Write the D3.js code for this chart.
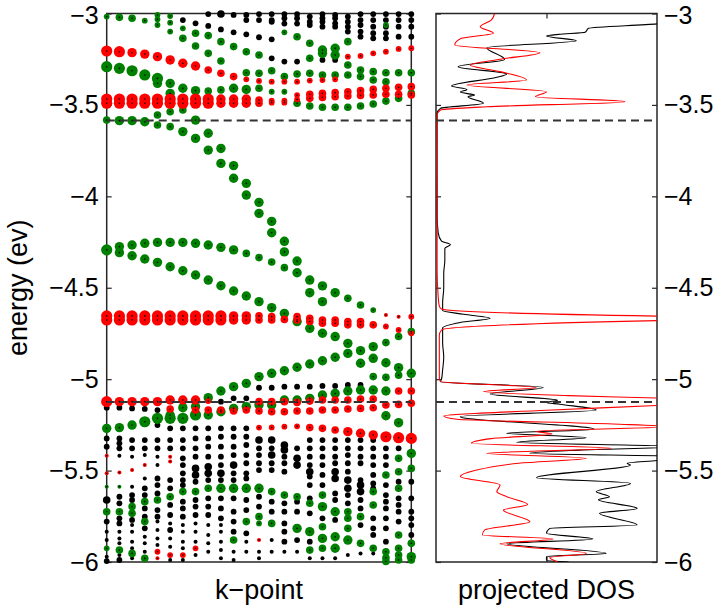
<!DOCTYPE html>
<html><head><meta charset="utf-8">
<script src="https://cdn.jsdelivr.net/npm/d3@7"></script>
<style>body{margin:0;background:#fff} text{font-family:"Liberation Sans",Arial,Helvetica,sans-serif}</style>
</head><body><svg id="c" width="721" height="610"></svg>
<script>
// ---------------- DATA ----------------
const kpoints = [1,2,3,4,5,6,7,8,9,10,11,12,13,14,15,16,17,18,19,20,21,22,23,24,25];
const yTicks = [-6,-5.5,-5,-4.5,-4,-3.5,-3];
const fermiLevels = [-3.585, -5.125];
// eigenvalues per k-point: [energy (eV), projection ('k' total, 'r', 'g'), weight]
const eigen = [
[[-3.017,'g',3],[-3.205,'r',6],[-3.291,'g',6],[-3.468,'r',6],[-3.491,'r',6],[-3.583,'g',4],[-4.293,'g',6],[-4.654,'r',6],[-4.676,'r',6],[-5.123,'r',6],[-5.156,'k',3],[-5.269,'g',5],[-5.324,'k',3],[-5.369,'k',3],[-5.419,'r',2],[-5.515,'r',2],[-5.588,'g',2],[-5.661,'k',4],[-5.725,'g',4],[-5.779,'k',3],[-5.834,'k',2],[-5.880,'k',2],[-5.925,'g',3],[-5.971,'k',2],[-5.995,'k',3]],
[[-3.021,'g',4],[-3.209,'r',6],[-3.300,'g',6],[-3.468,'r',6],[-3.491,'r',6],[-3.586,'g',5],[-4.275,'g',5],[-4.308,'g',5],[-4.654,'r',6],[-4.676,'r',6],[-5.123,'r',5],[-5.156,'k',3],[-5.265,'g',5],[-5.324,'k',3],[-5.351,'k',3],[-5.378,'k',3],[-5.419,'k',2],[-5.510,'r',2],[-5.588,'g',2],[-5.643,'k',3],[-5.679,'k',3],[-5.725,'g',4],[-5.761,'k',3],[-5.789,'k',3],[-5.834,'k',2],[-5.871,'k',2],[-5.898,'k',2],[-5.935,'g',4],[-5.962,'k',2],[-5.989,'k',3]],
[[-3.026,'g',4],[-3.214,'r',5],[-3.313,'g',6],[-3.468,'r',6],[-3.491,'r',6],[-3.586,'g',5],[-4.266,'g',5],[-4.325,'g',5],[-4.654,'r',6],[-4.676,'r',6],[-5.123,'r',5],[-5.160,'k',3],[-5.251,'g',5],[-5.333,'k',3],[-5.378,'k',3],[-5.424,'k',2],[-5.497,'r',2],[-5.588,'k',2],[-5.634,'k',3],[-5.661,'k',3],[-5.697,'g',4],[-5.734,'g',4],[-5.770,'k',3],[-5.798,'k',2],[-5.834,'k',2],[-5.889,'k',2],[-5.925,'k',2],[-5.953,'g',4],[-5.980,'k',2]],
[[-3.039,'g',3],[-3.222,'r',5],[-3.336,'g',6],[-3.468,'r',6],[-3.491,'r',6],[-3.592,'g',5],[-4.257,'g',5],[-4.343,'g',5],[-4.654,'r',6],[-4.676,'r',6],[-5.123,'r',5],[-5.163,'k',3],[-5.233,'g',6],[-5.333,'k',3],[-5.378,'k',3],[-5.415,'k',2],[-5.470,'r',2],[-5.543,'k',2],[-5.597,'k',3],[-5.634,'k',3],[-5.670,'g',4],[-5.707,'k',3],[-5.752,'k',3],[-5.779,'g',4],[-5.816,'k',3],[-5.862,'k',2],[-5.898,'k',2],[-5.944,'k',2],[-5.980,'g',4]],
[[-3.008,'g',3],[-3.032,'g',3],[-3.063,'g',3],[-3.236,'r',5],[-3.355,'g',6],[-3.382,'g',5],[-3.468,'r',6],[-3.491,'r',6],[-3.555,'g',4],[-3.610,'g',4],[-4.252,'g',5],[-4.361,'g',5],[-4.654,'r',6],[-4.676,'r',6],[-5.123,'r',5],[-5.169,'k',3],[-5.214,'g',6],[-5.251,'k',3],[-5.333,'k',3],[-5.378,'k',3],[-5.424,'k',2],[-5.470,'k',2],[-5.543,'k',3],[-5.579,'k',3],[-5.625,'k',3],[-5.661,'g',4],[-5.716,'k',3],[-5.752,'k',3],[-5.779,'k',2],[-5.825,'k',2],[-5.871,'k',2],[-5.907,'k',2],[-5.944,'r',3],[-5.980,'r',2]],
[[-3.014,'g',3],[-3.050,'g',3],[-3.099,'g',3],[-3.254,'r',5],[-3.382,'g',5],[-3.437,'g',5],[-3.468,'r',6],[-3.491,'r',6],[-3.537,'g',4],[-3.619,'g',4],[-4.252,'g',5],[-4.385,'g',5],[-4.654,'r',6],[-4.676,'r',6],[-5.114,'r',5],[-5.163,'r',4],[-5.196,'g',5],[-5.214,'g',6],[-5.269,'k',3],[-5.333,'k',3],[-5.378,'k',3],[-5.424,'r',2],[-5.451,'r',2],[-5.552,'k',3],[-5.597,'k',3],[-5.643,'g',4],[-5.688,'k',3],[-5.743,'k',3],[-5.789,'k',2],[-5.825,'k',3],[-5.871,'k',2],[-5.916,'k',2],[-5.962,'r',3],[-5.989,'k',2]],
[[-3.036,'k',3],[-3.081,'g',3],[-3.136,'g',4],[-3.272,'r',5],[-3.409,'g',5],[-3.468,'r',6],[-3.491,'r',6],[-3.528,'g',4],[-3.646,'g',5],[-4.252,'g',5],[-4.407,'g',5],[-4.654,'r',6],[-4.676,'r',6],[-5.114,'r',5],[-5.156,'g',5],[-5.214,'g',6],[-5.269,'k',3],[-5.333,'k',3],[-5.378,'k',3],[-5.433,'k',3],[-5.470,'k',3],[-5.515,'k',3],[-5.552,'k',3],[-5.579,'k',3],[-5.615,'g',4],[-5.670,'k',3],[-5.707,'k',3],[-5.752,'k',3],[-5.798,'k',2],[-5.834,'k',2],[-5.889,'k',2],[-5.925,'k',2],[-5.962,'r',3],[-5.989,'k',2]],
[[-3.054,'k',3],[-3.108,'g',4],[-3.178,'g',4],[-3.287,'r',5],[-3.422,'g',5],[-3.468,'r',6],[-3.491,'r',6],[-3.583,'g',5],[-3.683,'g',5],[-4.257,'g',5],[-4.430,'g',5],[-4.654,'r',6],[-4.676,'r',6],[-5.114,'r',5],[-5.150,'g',5],[-5.169,'r',4],[-5.196,'g',6],[-5.269,'k',3],[-5.324,'k',3],[-5.378,'k',3],[-5.424,'k',3],[-5.488,'k',4],[-5.524,'k',4],[-5.561,'k',3],[-5.615,'g',4],[-5.661,'k',3],[-5.697,'k',3],[-5.743,'k',3],[-5.789,'k',2],[-5.834,'k',2],[-5.889,'k',2],[-5.925,'r',3],[-5.962,'k',2]],
[[-3.003,'k',3],[-3.068,'k',3],[-3.121,'g',4],[-3.218,'g',4],[-3.309,'r',4],[-3.424,'g',4],[-3.468,'r',6],[-3.491,'r',6],[-3.655,'g',5],[-3.747,'g',5],[-4.266,'g',5],[-4.458,'g',5],[-4.654,'r',6],[-4.676,'r',6],[-5.101,'g',5],[-5.120,'r',3],[-5.169,'r',4],[-5.196,'g',5],[-5.269,'k',3],[-5.324,'k',3],[-5.369,'k',3],[-5.424,'k',3],[-5.479,'k',4],[-5.515,'k',4],[-5.552,'k',3],[-5.597,'g',4],[-5.652,'k',3],[-5.697,'k',3],[-5.743,'k',3],[-5.798,'k',2],[-5.852,'k',2],[-5.898,'k',2],[-5.944,'k',2]],
[[-3.003,'k',4],[-3.087,'k',3],[-3.154,'g',4],[-3.260,'g',4],[-3.327,'r',4],[-3.418,'g',4],[-3.468,'r',5],[-3.491,'r',5],[-3.738,'g',5],[-3.820,'g',5],[-4.279,'g',5],[-4.489,'g',5],[-4.654,'r',6],[-4.676,'r',6],[-5.065,'g',5],[-5.123,'k',3],[-5.169,'r',4],[-5.178,'g',5],[-5.269,'k',3],[-5.315,'k',3],[-5.369,'k',3],[-5.424,'k',3],[-5.470,'k',3],[-5.515,'k',4],[-5.552,'k',3],[-5.597,'g',5],[-5.652,'k',3],[-5.707,'k',3],[-5.761,'k',3],[-5.798,'k',2],[-5.834,'k',2],[-5.889,'k',2],[-5.935,'k',2],[-5.980,'k',2]],
[[-3.008,'k',3],[-3.103,'k',3],[-3.181,'g',4],[-3.345,'r',4],[-3.409,'g',5],[-3.468,'r',5],[-3.491,'r',5],[-3.832,'g',5],[-3.901,'g',5],[-4.293,'g',5],[-4.518,'g',5],[-4.654,'r',5],[-4.676,'r',5],[-5.041,'g',5],[-5.105,'k',3],[-5.160,'g',5],[-5.174,'r',4],[-5.269,'k',3],[-5.315,'k',3],[-5.369,'k',3],[-5.415,'k',3],[-5.470,'k',4],[-5.515,'k',3],[-5.552,'k',3],[-5.597,'g',5],[-5.652,'k',3],[-5.725,'k',3],[-5.779,'k',3],[-5.834,'k',3],[-5.880,'g',4],[-5.944,'k',2],[-5.989,'k',2]],
[[-3.008,'k',3],[-3.036,'k',3],[-3.114,'k',3],[-3.209,'g',4],[-3.324,'g',4],[-3.360,'r',3],[-3.415,'g',5],[-3.468,'r',5],[-3.491,'r',5],[-3.929,'g',5],[-3.993,'g',5],[-4.312,'g',4],[-4.545,'g',5],[-4.654,'r',5],[-4.676,'r',5],[-5.023,'g',5],[-5.105,'k',3],[-5.150,'g',5],[-5.169,'r',4],[-5.269,'k',3],[-5.315,'k',3],[-5.360,'k',3],[-5.415,'k',3],[-5.460,'k',3],[-5.515,'k',3],[-5.543,'k',3],[-5.597,'g',5],[-5.661,'k',3],[-5.716,'k',3],[-5.779,'g',4],[-5.843,'k',3],[-5.889,'k',2],[-5.944,'k',2]],
[[-3.003,'k',3],[-3.036,'k',3],[-3.130,'k',3],[-3.227,'g',4],[-3.327,'g',4],[-3.369,'r',3],[-3.409,'g',4],[-3.473,'r',4],[-3.491,'r',4],[-4.033,'g',5],[-4.093,'g',5],[-4.335,'g',4],[-4.576,'g',5],[-4.654,'r',4],[-4.676,'r',4],[-4.986,'g',5],[-5.047,'k',3],[-5.123,'r',4],[-5.141,'g',5],[-5.174,'r',4],[-5.265,'r',3],[-5.333,'k',4],[-5.378,'k',3],[-5.415,'k',3],[-5.460,'k',3],[-5.497,'k',3],[-5.597,'g',5],[-5.643,'k',3],[-5.697,'k',3],[-5.752,'g',4],[-5.789,'g',3],[-5.880,'r',2],[-5.944,'k',2],[-5.980,'k',2]],
[[-3.003,'k',3],[-3.036,'k',3],[-3.045,'k',3],[-3.141,'k',3],[-3.245,'k',3],[-3.313,'g',4],[-3.373,'r',3],[-3.428,'g',3],[-3.477,'r',3],[-3.488,'r',3],[-4.137,'g',5],[-4.199,'g',5],[-4.359,'g',4],[-4.609,'g',5],[-4.658,'r',4],[-4.676,'r',4],[-4.968,'g',5],[-5.047,'k',3],[-5.123,'r',4],[-5.141,'g',5],[-5.178,'r',4],[-5.264,'r',3],[-5.333,'k',4],[-5.378,'k',3],[-5.415,'k',4],[-5.460,'k',3],[-5.497,'k',3],[-5.615,'g',4],[-5.670,'k',3],[-5.725,'k',3],[-5.789,'g',4],[-5.880,'k',2],[-5.944,'k',2]],
[[-3.003,'k',3],[-3.026,'k',3],[-3.055,'k',3],[-3.103,'g',3],[-3.263,'k',3],[-3.345,'g',4],[-3.373,'r',3],[-3.428,'g',3],[-3.477,'r',3],[-3.488,'r',3],[-4.246,'g',5],[-4.304,'g',5],[-4.390,'g',4],[-4.640,'g',5],[-4.673,'r',4],[-4.954,'g',5],[-5.041,'k',3],[-5.114,'g',5],[-5.123,'r',4],[-5.178,'r',4],[-5.260,'r',3],[-5.360,'k',4],[-5.387,'k',4],[-5.424,'k',3],[-5.460,'k',3],[-5.506,'k',3],[-5.634,'g',4],[-5.679,'k',3],[-5.725,'k',3],[-5.789,'k',3],[-5.834,'k',3],[-5.889,'k',3],[-5.944,'k',2]],
[[-3.003,'k',3],[-3.026,'k',3],[-3.055,'k',3],[-3.127,'g',4],[-3.263,'k',3],[-3.331,'g',4],[-3.373,'r',3],[-3.446,'r',3],[-3.470,'r',3],[-3.491,'g',4],[-4.354,'g',5],[-4.418,'g',5],[-4.658,'r',4],[-4.676,'r',4],[-4.685,'g',5],[-4.935,'g',5],[-5.041,'k',3],[-5.114,'g',5],[-5.127,'r',4],[-5.174,'r',4],[-5.258,'r',3],[-5.378,'k',3],[-5.433,'k',4],[-5.470,'k',4],[-5.643,'g',4],[-5.670,'k',3],[-5.725,'k',3],[-5.816,'g',5],[-5.880,'k',3],[-5.944,'k',2]],
[[-3.017,'k',3],[-3.045,'k',3],[-3.063,'k',3],[-3.163,'g',4],[-3.245,'g',4],[-3.327,'g',4],[-3.367,'r',3],[-3.442,'r',4],[-3.464,'r',4],[-3.506,'g',4],[-4.458,'g',5],[-4.527,'g',5],[-4.667,'r',4],[-4.685,'r',4],[-4.722,'g',5],[-4.917,'g',5],[-5.041,'k',3],[-5.105,'g',5],[-5.120,'r',4],[-5.174,'r',4],[-5.265,'r',4],[-5.333,'k',3],[-5.378,'k',3],[-5.424,'k',3],[-5.470,'k',3],[-5.506,'k',4],[-5.533,'k',3],[-5.579,'k',3],[-5.652,'k',3],[-5.679,'g',4],[-5.734,'k',3],[-5.834,'g',5],[-5.889,'k',3],[-5.935,'g',4],[-5.980,'k',2]],
[[-3.003,'k',3],[-3.026,'k',3],[-3.045,'k',3],[-3.072,'k',3],[-3.200,'g',5],[-3.218,'g',5],[-3.254,'k',3],[-3.336,'g',4],[-3.364,'r',3],[-3.437,'r',4],[-3.459,'r',4],[-3.513,'g',4],[-4.490,'g',5],[-4.576,'g',5],[-4.676,'r',4],[-4.694,'r',4],[-4.749,'g',5],[-4.899,'g',5],[-5.037,'k',3],[-5.087,'g',5],[-5.114,'r',4],[-5.169,'r',4],[-5.269,'r',4],[-5.333,'k',3],[-5.378,'k',3],[-5.424,'k',3],[-5.470,'k',3],[-5.524,'k',3],[-5.579,'k',3],[-5.634,'g',4],[-5.697,'g',5],[-5.761,'k',3],[-5.807,'g',4],[-5.871,'g',5],[-5.925,'g',4],[-5.980,'k',2]],
[[-3.008,'k',3],[-3.026,'k',3],[-3.054,'k',3],[-3.072,'k',3],[-3.190,'g',5],[-3.227,'g',5],[-3.254,'k',3],[-3.336,'g',4],[-3.360,'r',3],[-3.433,'r',4],[-3.455,'r',4],[-3.513,'g',4],[-4.527,'g',5],[-4.676,'r',4],[-4.694,'r',4],[-4.767,'g',5],[-4.880,'g',5],[-5.037,'k',3],[-5.078,'g',5],[-5.114,'r',4],[-5.169,'r',4],[-5.278,'r',4],[-5.333,'k',3],[-5.378,'k',3],[-5.424,'k',3],[-5.460,'k',3],[-5.506,'k',4],[-5.543,'k',4],[-5.625,'k',3],[-5.661,'k',3],[-5.725,'g',5],[-5.770,'k',3],[-5.862,'g',5],[-5.925,'g',5],[-5.980,'k',2]],
[[-3.017,'k',3],[-3.045,'k',3],[-3.072,'k',3],[-3.099,'k',3],[-3.154,'g',4],[-3.236,'r',3],[-3.282,'g',4],[-3.336,'g',4],[-3.428,'r',4],[-3.451,'r',4],[-3.513,'g',4],[-4.558,'g',4],[-4.685,'r',4],[-4.703,'r',4],[-4.804,'g',5],[-4.859,'g',5],[-5.032,'k',3],[-5.065,'g',5],[-5.114,'r',4],[-5.163,'r',4],[-5.287,'r',5],[-5.333,'k',3],[-5.378,'k',3],[-5.415,'k',3],[-5.460,'k',3],[-5.506,'k',3],[-5.552,'k',4],[-5.597,'k',4],[-5.634,'k',3],[-5.679,'k',3],[-5.725,'g',4],[-5.761,'g',4],[-5.816,'g',4],[-5.880,'g',5],[-5.962,'k',2]],
[[-3.003,'k',3],[-3.036,'k',3],[-3.063,'k',3],[-3.099,'k',3],[-3.127,'k',3],[-3.232,'r',3],[-3.309,'g',4],[-3.345,'g',4],[-3.422,'r',4],[-3.448,'r',4],[-3.506,'g',4],[-4.594,'g',4],[-4.685,'r',4],[-4.703,'r',4],[-4.844,'g',5],[-4.913,'g',5],[-5.032,'k',3],[-5.059,'g',5],[-5.109,'r',4],[-5.160,'r',4],[-5.296,'r',5],[-5.333,'k',3],[-5.378,'k',3],[-5.424,'k',3],[-5.460,'k',3],[-5.552,'k',3],[-5.579,'k',4],[-5.615,'k',4],[-5.661,'k',3],[-5.707,'k',3],[-5.752,'g',4],[-5.798,'k',3],[-5.898,'g',4],[-5.953,'k',2]],
[[-3.003,'k',3],[-3.036,'k',3],[-3.072,'k',3],[-3.108,'k',3],[-3.136,'k',3],[-3.218,'r',3],[-3.318,'g',4],[-3.364,'g',4],[-3.415,'r',4],[-3.446,'r',4],[-3.495,'g',4],[-4.622,'g',3],[-4.703,'r',4],[-4.822,'g',5],[-4.886,'g',5],[-4.986,'g',4],[-5.059,'g',5],[-5.109,'r',4],[-5.156,'r',4],[-5.305,'r',5],[-5.333,'k',3],[-5.378,'k',3],[-5.424,'k',3],[-5.470,'k',3],[-5.524,'k',3],[-5.570,'k',3],[-5.597,'k',3],[-5.615,'g',4],[-5.688,'g',4],[-5.761,'k',3],[-5.816,'k',3],[-5.852,'k',3],[-5.925,'g',4],[-5.953,'k',2]],
[[-3.003,'k',3],[-3.036,'k',3],[-3.063,'g',3],[-3.072,'k',3],[-3.108,'k',3],[-3.136,'k',3],[-3.209,'r',3],[-3.324,'g',4],[-3.373,'g',4],[-3.409,'r',4],[-3.442,'r',4],[-3.479,'g',4],[-4.649,'r',2],[-4.712,'r',3],[-4.800,'g',4],[-4.910,'g',5],[-4.990,'g',4],[-5.065,'g',5],[-5.141,'r',4],[-5.200,'g',5],[-5.315,'r',6],[-5.378,'k',3],[-5.424,'k',3],[-5.470,'k',3],[-5.524,'g',4],[-5.579,'k',3],[-5.634,'k',3],[-5.670,'k',3],[-5.707,'k',3],[-5.761,'k',3],[-5.816,'k',3],[-5.889,'k',3],[-5.944,'g',4],[-5.977,'g',4],[-5.997,'g',4]],
[[-3.003,'k',3],[-3.036,'k',3],[-3.072,'k',3],[-3.127,'k',3],[-3.194,'r',3],[-3.324,'g',4],[-3.404,'r',4],[-3.442,'r',4],[-3.464,'g',4],[-4.658,'r',2],[-4.731,'r',3],[-4.767,'g',4],[-4.937,'g',5],[-4.978,'g',4],[-5.065,'r',4],[-5.138,'r',4],[-5.238,'g',5],[-5.320,'r',6],[-5.378,'k',3],[-5.433,'g',4],[-5.506,'g',4],[-5.561,'k',3],[-5.597,'g',4],[-5.652,'k',3],[-5.688,'k',3],[-5.725,'k',3],[-5.779,'k',3],[-5.852,'g',4],[-5.925,'g',4],[-5.962,'g',4],[-5.989,'g',4]],
[[-3.003,'k',3],[-3.036,'k',3],[-3.072,'k',3],[-3.127,'k',3],[-3.190,'r',3],[-3.324,'g',4],[-3.400,'r',4],[-3.437,'g',4],[-3.446,'r',4],[-4.658,'r',3],[-4.740,'g',4],[-4.749,'r',3],[-4.968,'g',5],[-5.065,'r',4],[-5.132,'r',4],[-5.324,'r',6],[-5.406,'g',5],[-5.488,'g',4],[-5.561,'k',3],[-5.652,'k',3],[-5.725,'k',3],[-5.761,'k',3],[-5.798,'k',3],[-5.852,'k',3],[-5.898,'g',4],[-5.971,'g',5],[-5.989,'g',4]]
];
// projected DOS curves: [energy (eV), DOS]
const dosTotal = [[-3.000,2.60],[-3.030,2.30],[-3.057,2.00],[-3.081,1.38],[-3.103,1.35],[-3.114,1.11],[-3.123,1.00],[-3.149,1.27],[-3.187,0.46],[-3.251,0.62],[-3.291,0.20],[-3.331,0.64],[-3.349,0.55],[-3.397,0.14],[-3.415,0.28],[-3.430,0.22],[-3.446,0.35],[-3.455,0.29],[-3.491,0.43],[-3.519,0.04],[-3.546,0.01],[-3.70,0.01],[-3.90,0.01],[-4.10,0.01],[-4.20,0.02],[-4.245,0.05],[-4.263,0.13],[-4.285,0.08],[-4.35,0.08],[-4.42,0.07],[-4.50,0.07],[-4.58,0.06],[-4.625,0.06],[-4.645,0.25],[-4.667,0.49],[-4.69,0.22],[-4.72,0.06],[-4.80,0.06],[-4.88,0.07],[-4.95,0.06],[-5.000,0.05],[-5.014,0.04],[-5.045,0.97],[-5.081,0.49],[-5.115,1.10],[-5.127,1.00],[-5.137,1.12],[-5.169,1.45],[-5.205,0.22],[-5.274,1.43],[-5.296,0.64],[-5.320,1.36],[-5.345,0.73],[-5.369,2.20],[-5.388,1.30],[-5.405,0.85],[-5.424,2.30],[-5.445,2.00],[-5.460,1.73],[-5.470,1.76],[-5.539,0.91],[-5.570,1.76],[-5.615,1.45],[-5.643,1.57],[-5.660,1.47],[-5.707,1.82],[-5.734,1.48],[-5.798,1.82],[-5.816,1.03],[-5.843,1.00],[-5.874,1.42],[-5.900,0.64],[-5.953,1.54],[-5.970,1.00],[-5.990,1.00],[-6.000,1.20]];
const dosProj = [[-3.000,0.53],[-3.036,0.50],[-3.072,0.40],[-3.108,0.52],[-3.136,0.23],[-3.172,0.17],[-3.214,0.94],[-3.250,0.58],[-3.282,0.31],[-3.318,0.58],[-3.364,0.82],[-3.391,0.28],[-3.428,1.00],[-3.455,0.90],[-3.482,1.71],[-3.510,0.46],[-3.528,0.04],[-3.555,0.01],[-3.80,0.005],[-4.10,0.01],[-4.40,0.01],[-4.55,0.02],[-4.60,0.03],[-4.616,0.05],[-4.655,2.00],[-4.668,3.50],[-4.680,2.00],[-4.731,0.05],[-4.76,0.03],[-4.90,0.03],[-4.99,0.03],[-5.013,0.04],[-5.046,0.91],[-5.068,0.43],[-5.090,1.20],[-5.105,2.10],[-5.120,2.60],[-5.141,2.10],[-5.170,1.00],[-5.201,0.07],[-5.219,0.19],[-5.245,1.60],[-5.260,2.10],[-5.285,0.90],[-5.300,1.05],[-5.325,0.50],[-5.351,0.32],[-5.378,1.59],[-5.405,0.46],[-5.433,1.36],[-5.460,0.75],[-5.500,0.35],[-5.533,0.22],[-5.579,0.58],[-5.615,0.55],[-5.643,0.64],[-5.685,0.83],[-5.716,0.61],[-5.780,0.85],[-5.825,0.44],[-5.852,0.42],[-5.874,1.06],[-5.900,0.58],[-5.953,1.36],[-5.976,1.03],[-6.000,1.10]];

// ---------------- DRAW ----------------
const svg = d3.select('#c');
const colors = {k:'#000000', r:'#ff0000', g:'#008000'};
const L = {x0:106.7, x1:411.3}, R = {x0:436, x1:657};
const yTop = 13.5, yBot = 562;
const y = d3.scaleLinear().domain([-6,-3]).range([yBot,yTop]);
const xk = d3.scaleLinear().domain([1,25]).range([L.x0,L.x1]);
const xd = d3.scaleLinear().domain([0,2]).range([R.x0,R.x1]);
const fmt = d => String(d).replace('-', '\u2212');
const axisCol = '#262626';
const tickFont = '25px', labelFont = '27px';

function styleAxis(g){
  g.select('.domain').remove();
  g.selectAll('line').attr('stroke', axisCol).attr('stroke-width',1.2);
  g.selectAll('text').attr('font-size',tickFont).attr('fill','#000')
   .attr('dy', d => d === -3 ? '0.4em' : '0.32em')
   .style('font-family','"Liberation Sans",Arial,Helvetica,sans-serif');
}

// left panel box
svg.append('rect').attr('x',L.x0).attr('y',yTop).attr('width',L.x1-L.x0).attr('height',yBot-yTop)
  .attr('fill','none').attr('stroke',axisCol).attr('stroke-width',1.5);
svg.append('g').attr('transform',`translate(${L.x0},0)`)
  .call(d3.axisLeft(y).tickValues(yTicks).tickSizeInner(-5).tickSizeOuter(0).tickPadding(8).tickFormat(fmt)).call(styleAxis);
svg.append('g').attr('transform',`translate(${L.x1},0)`)
  .call(d3.axisRight(y).tickValues(yTicks).tickSizeInner(-5).tickSizeOuter(0).tickFormat('')).call(styleAxis);

// points
const pts = [];
kpoints.forEach((k,i) => eigen[i].forEach(([E,o,w]) => pts.push({k,E,o,w})));
const order = {k:0, g:1, r:2};
pts.sort((a,b) => order[a.o]-order[b.o]);
const pg = svg.append('g');
pg.selectAll('circle.p').data(pts).join('circle').attr('class','p')
  .attr('cx', d => xk(d.k)).attr('cy', d => y(d.E)).attr('r', d => d.w*0.9 + 0.2)
  .attr('fill', d => colors[d.o]);
pg.selectAll('circle.c').data(pts.filter(d => d.o !== 'k')).join('circle').attr('class','c')
  .attr('cx', d => xk(d.k)).attr('cy', d => y(d.E)).attr('r', 0.8).attr('fill','#000');

// dashed levels left
fermiLevels.forEach(E => {
  svg.append('line').attr('x1',L.x0).attr('x2',L.x1).attr('y1',y(E)).attr('y2',y(E))
    .attr('stroke','#333').attr('stroke-width',2).attr('stroke-dasharray','8,5');
});

// right panel
svg.append('defs').append('clipPath').attr('id','clipR').append('rect')
  .attr('x',R.x0).attr('y',yTop).attr('width',R.x1-R.x0).attr('height',yBot-yTop);
svg.append('rect').attr('x',R.x0).attr('y',yTop).attr('width',R.x1-R.x0).attr('height',yBot-yTop)
  .attr('fill','none').attr('stroke',axisCol).attr('stroke-width',1.5);
svg.append('g').attr('transform',`translate(${R.x0},0)`)
  .call(d3.axisLeft(y).tickValues(yTicks).tickSizeInner(-5).tickSizeOuter(0).tickFormat('')).call(styleAxis);
svg.append('g').attr('transform',`translate(${R.x1},0)`)
  .call(d3.axisRight(y).tickValues(yTicks).tickSizeInner(-5).tickSizeOuter(0).tickPadding(7).tickFormat(fmt)).call(styleAxis);
svg.append('g').attr('transform',`translate(0,${yTop})`)
  .call(d3.axisTop(xd).tickValues([1]).tickSizeInner(-5).tickSizeOuter(0).tickFormat('')).call(styleAxis);
svg.append('g').attr('transform',`translate(0,${yBot})`)
  .call(d3.axisBottom(xd).tickValues([1]).tickSizeInner(-5).tickSizeOuter(0).tickFormat('')).call(styleAxis);

const line = d3.line().x(d => xd(d[1])).y(d => y(d[0])).curve(d3.curveMonotoneY);
const dg = svg.append('g').attr('clip-path','url(#clipR)');
dg.append('path').attr('d', line(dosTotal)).attr('fill','none').attr('stroke','#000').attr('stroke-width',1.1);
dg.append('path').attr('d', line(dosProj)).attr('fill','none').attr('stroke','#ff0000').attr('stroke-width',1.1);
fermiLevels.forEach(E => {
  svg.append('line').attr('x1',R.x0).attr('x2',R.x1).attr('y1',y(E)).attr('y2',y(E))
    .attr('stroke','#333').attr('stroke-width',2).attr('stroke-dasharray','8,5');
});

// labels
svg.append('text').attr('transform',`translate(27,${(yTop+yBot)/2}) rotate(-90)`)
  .attr('text-anchor','middle').attr('font-size',labelFont).text('energy (ev)');
svg.append('text').attr('x',(L.x0+L.x1)/2).attr('y',599).attr('text-anchor','middle')
  .attr('font-size',labelFont).text('k\u2212point');
svg.append('text').attr('x',(R.x0+R.x1)/2).attr('y',599).attr('text-anchor','middle')
  .attr('font-size',labelFont).text('projected DOS');
</script></body></html>
